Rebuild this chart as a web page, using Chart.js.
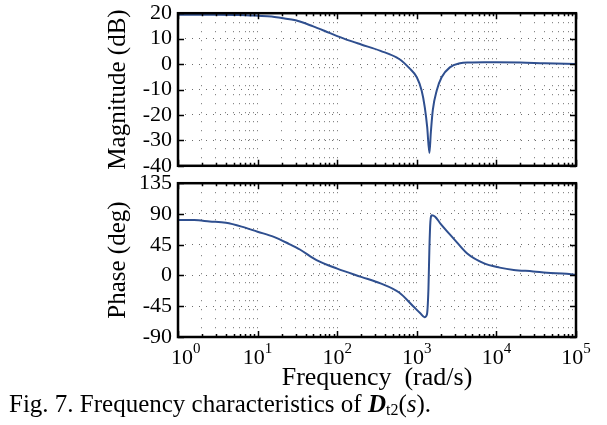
<!DOCTYPE html>
<html>
<head>
<meta charset="utf-8">
<script src="https://cdn.jsdelivr.net/npm/chart.js@4.4.0/dist/chart.umd.min.js"></script>
<style>
  body { margin: 0; background: #fff; width: 607px; height: 425px; position: relative; overflow: hidden; }
  canvas { position: absolute; left: 0; }
  #mag { top: -6px; }
  #phase { top: 164px; }
  #caption { position: absolute; left: 9px; top: 390px; font: 25px "Liberation Serif", serif; color: #000; white-space: nowrap; }
  #caption sub { font-size: 16px; vertical-align: -3px; }
</style>
</head>
<body>
<canvas id="mag" width="607" height="191"></canvas>
<canvas id="phase" width="607" height="236"></canvas>
<div id="caption">Fig. 7. Frequency characteristics of <b><i>D</i></b><sub>t2</sub>(<i>s</i>).</div>
<script>
const magFreq = [1, 3, 6, 10, 15, 20, 30, 50, 70, 100, 150, 200, 350, 600, 800, 1000, 1150, 1260, 1350, 1440, 1500, 1590, 1780, 2050, 2600, 3500, 4600, 7000, 10000, 20000, 40000, 100000];
const magDb = [19.4, 19.4, 19.3, 19.0, 18.7, 18.1, 17.2, 14.8, 13.0, 11.0, 9.0, 7.7, 5.2, 2.0, -1.5, -5.2, -10.4, -17, -24.7, -35, -27, -18, -10.4, -5.2, -1.3, 0.3, 0.6, 0.7, 0.7, 0.6, 0.3, 0];

const phaseFreq = [1, 1.6, 2.5, 4, 6.3, 10, 16, 25, 34, 55, 100, 200, 350, 600, 900, 1100, 1250, 1340, 1400, 1440, 1480, 1540, 1700, 1980, 2900, 4300, 6900, 11000, 16500, 29000, 43000, 76000, 100000];
const phaseDeg = [81, 81, 79, 77, 71.5, 64, 56.5, 46, 38, 22.5, 10, -2, -11.5, -25, -45, -55, -61, -57, -20, 40, 78, 88, 86, 76, 54, 32, 18, 11.5, 8, 6, 4, 2.5, 0.6];

const xTickBase = '10';
const xTickExp = ['0', '1', '2', '3', '4', '5'];

const lineColor = '#2f4f8f';
const serif = '"Liberation Serif", "Times New Roman", serif';

function decadeOf(v) {
  const e = Math.round(Math.log10(v));
  return Math.abs(v - Math.pow(10, e)) < 1e-9 * v ? e : -1;
}

// drop the 15, 150, ... ticks chart.js adds on log axes
function keepIntegerTicks(s) {
  s.ticks = s.ticks.filter(t => {
    const p = Math.pow(10, Math.floor(Math.log10(t.value) + 1e-9));
    const r = t.value / p;
    return Math.abs(r - Math.round(r)) < 1e-6;
  });
}

// black frame with inward tick marks, like matlab; 10^n labels on the lower plot
const frameTicks = {
  id: 'frameTicks',
  afterDraw(chart, args, opts) {
    const { ctx, chartArea: a, scales } = chart;
    ctx.save();
    ctx.strokeStyle = '#000';
    ctx.lineWidth = 1.5;
    ctx.beginPath();
    scales.x.ticks.forEach(t => {
      const px = Math.round(scales.x.getPixelForValue(t.value)) + 0.5;
      const len = decadeOf(t.value) >= 0 ? 6 : 3;
      ctx.moveTo(px, a.top); ctx.lineTo(px, a.top + len);
      ctx.moveTo(px, a.bottom); ctx.lineTo(px, a.bottom - len);
    });
    scales.y.ticks.forEach(t => {
      const py = Math.round(scales.y.getPixelForValue(t.value)) + 0.5;
      ctx.moveTo(a.left, py); ctx.lineTo(a.left + 6, py);
      ctx.moveTo(a.right, py); ctx.lineTo(a.right - 6, py);
    });
    ctx.stroke();
    ctx.lineWidth = 2.5;
    ctx.strokeRect(a.left, a.top, a.right - a.left, a.bottom - a.top);

    if (opts.labels) {
      ctx.fillStyle = '#000';
      ctx.textBaseline = 'alphabetic';
      ctx.textAlign = 'left';
      xTickExp.forEach((ex, e) => {
        const px = scales.x.getPixelForValue(Math.pow(10, e));
        ctx.font = '22px ' + serif;
        const wb = ctx.measureText(xTickBase).width;
        ctx.font = '15px ' + serif;
        const we = ctx.measureText(ex).width;
        let left = px - (wb + we) / 2;
        if (e === 0) left = px - 7;
        ctx.font = '22px ' + serif;
        ctx.fillText(xTickBase, left, a.bottom + 27);
        ctx.font = '15px ' + serif;
        ctx.fillText(ex, left + wb, a.bottom + 16);
      });
    }
    ctx.restore();
  }
};

function xScale(showTitle) {
  return {
    type: 'logarithmic',
    min: 1,
    max: 100000,
    afterBuildTicks: keepIntegerTicks,
    afterFit: s => { s.height = showTitle ? 63 : 0; },
    border: { display: false, dash: [1, 8] },
    grid: { color: '#6e6e6e', lineWidth: 1, drawTicks: false },
    ticks: { display: false, autoSkip: false },
    title: {
      display: showTitle,
      text: 'Frequency  (rad/s)',
      color: '#000',
      font: { family: serif, size: 26 },
      padding: { top: 0, bottom: 6 }
    }
  };
}

function yScale(min, max, step, title) {
  return {
    min: min,
    max: max,
    afterFit: s => { s.width = 78; },
    border: { display: false, dash: [1, 6] },
    grid: { color: '#6e6e6e', lineWidth: 1, drawTicks: false },
    ticks: {
      stepSize: step,
      autoSkip: false,
      padding: 6,
      color: '#000',
      font: { family: serif, size: 22 }
    },
    title: {
      display: true,
      text: title,
      color: '#000',
      font: { family: serif, size: 25 },
      padding: { top: 3, bottom: 0 }
    }
  };
}

function bode(id, freq, vals, yOpts, showX, pad) {
  return new Chart(document.getElementById(id), {
    type: 'line',
    data: {
      datasets: [{
        data: freq.map((f, i) => ({ x: f, y: vals[i] })),
        borderColor: lineColor,
        borderWidth: 2,
        pointRadius: 0,
        fill: false,
        cubicInterpolationMode: 'monotone'
      }]
    },
    options: {
      responsive: false,
      animation: false,
      events: [],
      layout: { padding: pad },
      plugins: { legend: { display: false }, tooltip: { enabled: false }, frameTicks: { labels: showX } },
      scales: { x: xScale(showX), y: yOpts }
    },
    plugins: [frameTicks]
  });
}

bode('mag', magFreq, magDb, yScale(-40, 20, 10, 'Magnitude (dB)'), false,
  { left: 100, right: 31, top: 6, bottom: 19 });
bode('phase', phaseFreq, phaseDeg, yScale(-90, 135, 45, 'Phase (deg)'), true,
  { left: 100, right: 31, top: 7, bottom: 0 });
</script>
</body>
</html>
